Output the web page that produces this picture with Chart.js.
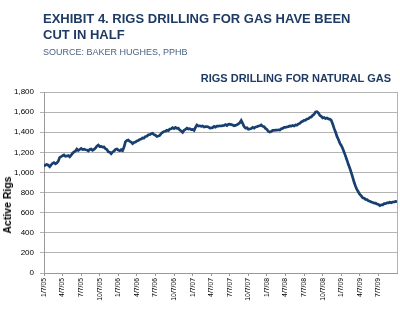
<!DOCTYPE html>
<html>
<head>
<meta charset="utf-8">
<script src="https://cdn.jsdelivr.net/npm/chart.js@4.4.1/dist/chart.umd.min.js"></script>
<style>
  body { margin: 0; background: #fff; font-family: "Liberation Sans", Arial, sans-serif; }
  #wrap { position: relative; width: 400px; height: 322px; }
  #chart { position: absolute; left: 0; top: 0; }
  .title { position: absolute; left: 43px; top: 10.8px; font-size: 13px; line-height: 16px; font-weight: bold; color: #1f3b63; }
  .source { position: absolute; left: 43px; top: 48.2px; font-size: 9px; line-height: 9px; color: #4a6383; }
  .sub { position: absolute; right: 9px; top: 72.6px; font-size: 11px; line-height: 11px; font-weight: bold; color: #1f3b63; }
  .ytitle { position: absolute; left: 7px; top: 205px; font-size: 10.5px; font-weight: bold; color: #000;
            transform: translate(-50%, -50%) rotate(-90deg); white-space: nowrap; }
</style>
</head>
<body>
<div id="wrap">
  <canvas id="chart" width="400" height="322"></canvas>
  <div class="title">EXHIBIT 4. RIGS DRILLING FOR GAS HAVE BEEN<br>CUT IN HALF</div>
  <div class="source">SOURCE: BAKER HUGHES, PPHB</div>
  <div class="sub">RIGS DRILLING FOR NATURAL GAS</div>
  <div class="ytitle">Active Rigs</div>
</div>
<script>
// quarterly tick labels, one every 13 weeks
const tickLabels = ['1/7/05', '4/7/05', '7/7/05', '10/7/05', '1/7/06', '4/7/06', '7/7/06', '10/7/06',
    '1/7/07', '4/7/07', '7/7/07', '10/7/07', '1/7/08', '4/7/08', '7/7/08', '10/7/08',
    '1/7/09', '4/7/09', '7/7/09'];
const weeksPerTick = 13;

// weekly gas rig count, starting 1/7/05
const gasRigs = [
    1062, 1074, 1080, 1072, 1058, 1076, 1090, 1098, 1086, 1094,
    1112, 1150, 1158, 1166, 1174, 1160, 1164, 1168, 1155, 1172,
    1192, 1204, 1212, 1232, 1218, 1228, 1238, 1228, 1232, 1226,
    1224, 1214, 1228, 1232, 1220, 1230, 1242, 1262, 1272, 1258,
    1260, 1252, 1254, 1236, 1228, 1206, 1202, 1186, 1204, 1212,
    1230, 1234, 1222, 1216, 1226, 1218, 1252, 1306, 1318, 1322,
    1308, 1302, 1286, 1298, 1302, 1314, 1318, 1328, 1332, 1344,
    1342, 1358, 1360, 1375, 1376, 1386, 1390, 1376, 1370, 1358,
    1362, 1368, 1388, 1398, 1408, 1410, 1420, 1416, 1432, 1434,
    1445, 1436, 1448, 1438, 1440, 1422, 1412, 1398, 1420, 1428,
    1440, 1432, 1436, 1426, 1428, 1418, 1448, 1472, 1462, 1464,
    1458, 1462, 1452, 1456, 1455, 1452, 1442, 1444, 1446, 1458,
    1450, 1460, 1460, 1464, 1462, 1466, 1468, 1476, 1466, 1478,
    1480, 1476, 1472, 1464, 1468, 1474, 1482, 1494, 1516, 1488,
    1456, 1442, 1444, 1430, 1432, 1436, 1448, 1440, 1452, 1454,
    1462, 1464, 1472, 1460, 1456, 1438, 1428, 1408, 1402, 1406,
    1418, 1418, 1420, 1420, 1424, 1422, 1434, 1438, 1448, 1448,
    1454, 1456, 1462, 1460, 1468, 1462, 1472, 1470, 1482, 1488,
    1502, 1508, 1518, 1520, 1532, 1534, 1548, 1552, 1568, 1578,
    1602, 1604, 1592, 1568, 1558, 1542, 1546, 1536, 1542, 1532,
    1530, 1518, 1482, 1438, 1402, 1358, 1328, 1292, 1268, 1238,
    1202, 1162, 1122, 1078, 1042, 998, 952, 902, 862, 828,
    806, 782, 766, 748, 744, 732, 730, 718, 714, 706,
    702, 694, 694, 686, 682, 670, 678, 678, 690, 690,
    697, 698, 704, 698, 706, 706, 712, 710
];

const gridColor = '#b3b3b3';

// right-hand frame line of the plot area
const frameRight = {
    id: 'frameRight',
    afterDraw(chart) {
        const { ctx, chartArea } = chart;
        ctx.save();
        ctx.strokeStyle = gridColor;
        ctx.lineWidth = 1;
        ctx.beginPath();
        ctx.moveTo(Math.round(chartArea.right) + 0.5, chartArea.top);
        ctx.lineTo(Math.round(chartArea.right) + 0.5, chartArea.bottom);
        ctx.stroke();
        ctx.restore();
    }
};

new Chart(document.getElementById('chart'), {
    type: 'line',
    data: {
        datasets: [{
            data: gasRigs.map((v, i) => ({ x: i, y: v })),
            borderColor: '#173f70',
            borderWidth: 2.7,
            pointRadius: 0,
            tension: 0
        }]
    },
    options: {
        responsive: false,
        animation: false,
        layout: { padding: { top: 92, right: 3, left: 0, bottom: 0 } },
        plugins: { legend: { display: false }, tooltip: { enabled: false } },
        scales: {
            x: {
                type: 'linear',
                min: 0,
                max: gasRigs.length - 1,
                afterBuildTicks: (scale) => {
                    scale.ticks = tickLabels.map((_, i) => ({ value: i * weeksPerTick }));
                },
                afterFit: (scale) => { scale.height = 49; },
                grid: { drawOnChartArea: false, drawTicks: true, tickLength: 3, color: '#999' },
                border: { color: '#999' },
                ticks: {
                    autoSkip: false,
                    minRotation: 90,
                    maxRotation: 90,
                    padding: 2,
                    color: '#000',
                    font: { family: 'Liberation Sans', size: 6.8 },
                    callback: (v) => tickLabels[Math.round(v / weeksPerTick)]
                }
            },
            y: {
                min: 0,
                max: 1800,
                afterFit: (scale) => { scale.width = 44; },
                grid: { color: gridColor, tickLength: 4 },
                border: { color: '#999' },
                ticks: {
                    stepSize: 200,
                    padding: 6,
                    color: '#000',
                    font: { family: 'Liberation Sans', size: 8 },
                    callback: (v) => v.toLocaleString('en-US')
                }
            }
        }
    },
    plugins: [frameRight]
});
</script>
</body>
</html>
